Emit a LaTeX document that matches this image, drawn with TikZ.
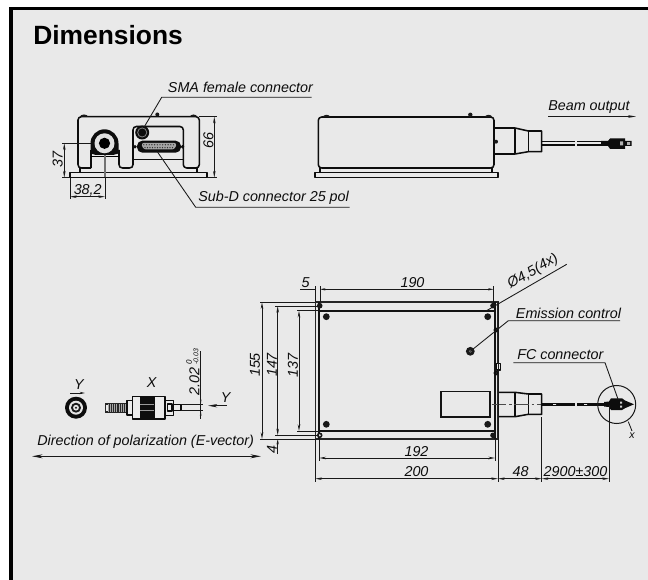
\documentclass[tikz,border=0pt]{standalone}
\usepackage{fontspec}
\setmainfont{Liberation Sans}
\usetikzlibrary{arrows.meta,calc}
\tikzset{
  x=0.75pt,y=-0.75pt,
  outl/.style={line width=1.15pt,black!95,line join=round},
  thin line/.style={line width=0.65pt,black!90},
  dimline/.style={line width=0.65pt,black!90,{Stealth[length=5pt,width=1.9pt]}-{Stealth[length=5pt,width=1.9pt]}},
  lab/.style={font=\fontsize{10.75}{12}\selectfont\itshape,inner sep=0pt,text=black!95},
  hole/.style={fill=black!90,draw=none},
}
\begin{document}
\begin{tikzpicture}
\useasboundingbox (0,0) rectangle (648,580);
\fill[white] (0,0) rectangle (648,580);
\fill[black!8.5] (11,8) rectangle (648,580);
\draw[line width=2.9pt,black] (10.7,580) -- (10.7,8.5) -- (648,8.5);
\node[anchor=west,inner sep=0pt,font=\fontsize{19.8}{22}\selectfont\bfseries] (title) at (33,35) {Dimensions};

% ---------- front view ----------
\draw[outl,rounded corners=2.5pt] (91,168) -- (78,168) -- (78,116.7) -- (199.3,116.7) -- (199.3,168) -- (183.3,168) -- (183.3,126.5) -- (133,126.5) -- (133,168) -- (119,168) -- (119,150);
\draw[outl] (91,168) -- (91,150);
\draw[outl] (133,159.3) -- (183.3,159.3);
\draw[line width=1.4pt] (91,156.5) -- (119,156.5);
\fill[black!90] (80,116.7) arc[start angle=180,end angle=360,x radius=4,y radius=2.2] -- cycle;
\fill[black!90] (190,116.7) arc[start angle=180,end angle=360,x radius=3.5,y radius=2.2] -- cycle;
\fill[black!90] (157.3,114.5) circle[radius=2];
\draw[outl] (80,168) -- (80,172.5) (197,168) -- (197,172.5);
\draw[outl] (70,172.5) rectangle (207,177.7);
\fill[black!95] (90.5,153.5) -- (90.5,143.3) arc[start angle=180,end angle=360,radius=14] -- (118.5,153.5) -- (113,155) -- (96,155) -- cycle;
\fill[black!12] (104.5,143.3) circle[radius=10];
\fill[black] (104.5,143.3) circle[radius=5.6];
\fill[black!95] (142.2,132.5) circle[radius=7];
\fill[black!50] (142.2,132.5) circle[radius=5];
\fill[black!95] (142.2,132.5) circle[radius=4];
\fill[black!95] (135,146.7) circle[radius=1.9] (182.5,146.7) circle[radius=1.9];
\fill[black!95,rounded corners=4pt] (137,140.7) rectangle (181,152.7);
\fill[black!35,rounded corners=2pt] (141,143) -- (177,143) -- (174.5,149.5) -- (143.5,149.5) -- cycle;
\foreach \i in {0,...,11} {\fill[black!80] ({143.8+\i*2.7},144.8) circle[radius=0.7] ({145+\i*2.5},147.6) circle[radius=0.7];}
% front dimensions
\draw[thin line] (199.3,116.7) -- (217,116.7) (207,177.6) -- (217,177.6);
\draw[dimline] (214.3,116.7) -- (214.3,177.6);
\node[lab,rotate=90] (d66) at (208.5,141) {66};
\draw[thin line] (62,143.3) -- (91,143.3) (62,177.6) -- (70,177.6);
\draw[dimline] (64.3,143.3) -- (64.3,177.6);
\node[lab,rotate=90] (d37) at (57.7,159.3) {37};
\draw[thin line] (70,177.6) -- (70,199);
\draw[line width=0.8pt,black!55] (105,155) -- (105,177);
\draw[thin line] (105,177) -- (105,199);
\draw[dimline] (70,196.7) -- (105,196.7);
\node[lab] (d382) at (87.7,190) {38,2};
% labels
\coordinate (smaend) at (144,127.3);
\coordinate (smabend) at (161.7,97.3);
\coordinate (smaline) at (311.7,97.3);
\node[lab,anchor=west] (sma) at (167.7,87) {SMA female connector};
\draw[thin line] (smaline) -- (smabend) -- (smaend);
\coordinate (subend) at (157.3,151.7);
\coordinate (subbend) at (195.7,207.3);
\coordinate (subline) at (349.5,207.3);
\node[lab,anchor=west] (sub) at (198,198) {Sub-D connector 25 pol};
\draw[thin line] (subline) -- (subbend) -- (subend);

% ---------- side view ----------
\draw[outl,rounded corners=2.5pt] (318.3,168) -- (318.3,117) -- (494,117) -- (494,168) -- cycle;
\fill[black!90] (323,117) arc[start angle=180,end angle=360,x radius=3.5,y radius=2.2] -- cycle;
\fill[black!90] (485,117) arc[start angle=180,end angle=360,x radius=3.5,y radius=2.2] -- cycle;
\fill[black!90] (470.3,114.8) circle[radius=2.2];
\fill[black!90] (496,141.7) circle[radius=2];
\draw[outl] (320,168) -- (320,172.7) (492,168) -- (492,172.7);
\draw[outl] (315,172.7) rectangle (498,177.7);
\draw[outl] (494,128) -- (515,128) -- (528.3,131) -- (541.7,131) -- (541.7,151.7) -- (528.3,151.7) -- (515,154) -- (494,154);
\draw[outl] (515,128) -- (515,154) (528.3,131) -- (528.3,151.7);
\draw[outl] (541.7,141.6) -- (575,141.6) (541.7,145) -- (575,145) (577,141.6) -- (602,141.6) (577,145) -- (602,145);
\fill[black!95] (601,141) -- (608,141) -- (610,138.5) -- (625,138.5) -- (625,141) -- (631.5,141) -- (631.5,146) -- (625,146) -- (625,148.8) -- (610,148.8) -- (608,146) -- (601,146) -- cycle;
\fill[black!30] (620,141.5) rectangle (623,145.5) (627,142.2) rectangle (630,144.8);
\coordinate (beamA) at (548,116.5);
\coordinate (beamB) at (636,116.5);
\draw[thin line,-{Stealth[length=6pt,width=2pt]}] (beamA) -- (beamB);
\node[lab,anchor=west] (beam) at (548,107) {Beam output};

% ---------- polarization detail ----------
\fill[black!95] (76,407.7) circle[radius=11];
\fill[black!10] (76,407.7) circle[radius=7];
\fill[black!90] (76,407.7) circle[radius=5];
\fill[black!10] (76,407.7) circle[radius=2.9];
\fill[black!90] (76,407.7) circle[radius=1.2];
\node[lab] (yt) at (79,384.5) {Y};
\draw[thin line,-{Stealth[length=4pt,width=1.7pt]}] (70,393) -- (85,393);
\node[lab] (xt) at (151.7,383) {X};
\fill[black!85] (105,403) rectangle (127,412.7);
\foreach \i in {0,...,8} {\draw[black!35,line width=0.6pt] ({108+\i*2.2},404) -- ({108+\i*2.2},411.7);}
\fill[black!8] (106.3,404.5) rectangle (107.7,411);
\draw[outl,fill=black!8] (127,400.3) rectangle (132.7,415);
\draw[outl,fill=black!8] (132.7,396.5) rectangle (165,419);
\fill[black!95] (139.8,396.5) rectangle (154.5,419);
\draw[black!40,line width=0.5pt] (140,404.3) -- (154,404.3) (140,410.7) -- (154,410.7);
\draw[outl,fill=black!8] (165,400.5) rectangle (173.3,415.5);
\draw[outl,fill=black!8] (167.5,404) rectangle (172,411);
\draw[outl] (173.3,404.3) rectangle (181,410.7);
\draw[thin line] (181,404.3) -- (203,404.3) (181,410.7) -- (203,410.7);
\draw[thin line] (200.7,351) -- (200.7,419);
\fill[black!85] (200.7,404.3) -- (199.9,399.5) -- (201.5,399.5) -- cycle (200.7,410.7) -- (199.9,415.5) -- (201.5,415.5) -- cycle;
\node[lab,rotate=90] (d202) at (194.5,381.5) {2.02};
\node[lab,rotate=90,font=\fontsize{6}{7}\selectfont\itshape] (d0) at (189,362) {0};
\node[lab,rotate=90,font=\fontsize{5.2}{6}\selectfont\itshape] (d003) at (196,357) {-0.03};
\coordinate (yarrA) at (226.7,405.7);
\coordinate (yarrB) at (208,405.7);
\draw[thin line,-{Stealth[length=7pt,width=2.5pt]}] (yarrA) -- (yarrB);
\node[lab] (yt2) at (225.7,397.5) {Y};
\node[lab,anchor=west] (dirt) at (37,442) {Direction of polarization (E-vector)};
\coordinate (dirA) at (32,456.3);
\coordinate (dirB) at (261,456.3);
\draw[thin line,{Stealth[length=8pt,width=3pt]}-{Stealth[length=8pt,width=3pt]}] (dirA) -- (dirB);

% ---------- top view ----------
\draw[line width=1.2pt,black!85] (315.3,302.3) rectangle (498,439);
\draw[line width=1.3pt,black!92] (319.3,310.7) -- (494.7,310.7) (319.3,431) -- (494.7,431);
\draw[line width=1.5pt,black!92] (319.3,302.3) -- (319.3,439) (494.7,302.3) -- (494.7,439);
\foreach \p in {(319.7,305.7),(493,305.7),(493,435.3)} {\fill[black!90] \p circle[radius=2.8];}
\fill[black!90] (319.7,435.3) circle[radius=2.8];
\fill[black!10] (319.7,435.3) circle[radius=1.1];
\foreach \p in {(326.3,316.7),(487.7,316.7),(326.3,424.3),(487.7,424.3)} {\fill[black!90] \p circle[radius=3.4];}
\fill[black!90] (470.3,351.3) circle[radius=4.4];
\fill[black!55] (470.3,351.3) circle[radius=1.5];
\draw[outl] (496,330) circle[radius=1.8] (496,373) circle[radius=1.8];
\draw[outl,fill=black!8] (496.5,363.5) rectangle (500.5,370);
\draw[line width=1.2pt,black!92] (441,391.3) rectangle (489.7,417);
\draw[outl] (498,392.3) -- (515,392.3) -- (528.3,394) -- (541.7,394) -- (541.7,414.3) -- (528.3,414.3) -- (515,416.7) -- (498,416.7);
\draw[outl] (515,392.3) -- (515,416.7) (528.3,394) -- (528.3,414.3);
\draw[line width=0.4pt,black!70,dash pattern=on 11pt off 2pt on 2pt off 2pt] (491.7,404.3) -- (541,404.3);
\fill[black!95] (541.7,402.6) rectangle (575,406);
\fill[black!95] (577,402.6) rectangle (606,406);
\fill[black!8] (584,404) rectangle (587,404.8) (553,404) rectangle (556,404.8);
\fill[black!95] (604,402) -- (609,401.5) -- (611,398.3) -- (622,398.3) -- (625,400.5) -- (634,404.3) -- (625,408.2) -- (622,410) -- (611,410) -- (609,407) -- (604,406.5) -- cycle;
\fill[black!20] (620,401.5) rectangle (622,403.5) (620,405.5) rectangle (622,407.5);
\draw[line width=0.75pt,black!90] (616.7,404.5) circle[radius=19];
\draw[thin line] (628.3,421.7) -- (632,431);
\node[lab,font=\fontsize{8}{9}\selectfont\itshape] (xlab) at (632,436) {x};
% top dimensions
\draw[thin line] (315.3,302.3) -- (315.3,286) (320,302.3) -- (320,286) (493.5,303) -- (493.5,286);
\coordinate (fiveA) at (300,289.3);
\draw[thin line] (fiveA) -- (315.3,289.3);
\draw[dimline,{Stealth[length=4pt,width=1.7pt]}-{Stealth[length=4pt,width=1.7pt]}] (320,289.3) -- (493.5,289.3);
\node[lab] (d5) at (305.5,283) {5};
\node[lab] (d190) at (412.5,283) {190};
\draw[thin line] (319.3,439) -- (319.3,461) (495,439) -- (495,461);
\draw[dimline] (319.3,458) -- (495,458);
\node[lab] (d192) at (416.5,451.5) {192};
\draw[thin line] (315.3,439) -- (315.3,482) (498,302.3) -- (498,482);
\draw[dimline] (315.3,478.7) -- (498,478.7);
\node[lab] (d200) at (416.5,472) {200};
\draw[thin line] (541.7,417) -- (541.7,482) (609,405) -- (609,482);
\draw[dimline] (498,478.7) -- (541.7,478.7);
\draw[dimline] (541.7,478.7) -- (609,478.7);
\node[lab] (d48) at (520.5,472) {48};
\node[lab] (d2900) at (575.5,471.5) {2900±300};
\draw[thin line] (260,302.3) -- (315.3,302.3) (260,439) -- (315.3,439);
\draw[dimline] (262,302.3) -- (262,439);
\node[lab,rotate=90] (d155) at (255,365) {155};
\draw[thin line] (275,306) -- (319,306) (275,435.3) -- (319,435.3);
\draw[dimline] (277.7,306) -- (277.7,435.3);
\node[lab,rotate=90] (d147) at (272,365) {147};
\draw[thin line] (297,310.7) -- (319,310.7) (297,431) -- (319,431);
\draw[dimline] (299,310.7) -- (299,431);
\node[lab,rotate=90] (d137) at (293,365.5) {137};
\draw[thin line,-{Stealth[length=4pt,width=1.7pt]}] (277.7,454) -- (277.7,439);
\node[lab,rotate=90] (d4) at (272,449.5) {4};
% leaders
\coordinate (diaA) at (486,311);
\coordinate (diaB) at (566.7,264.3);
\draw[thin line] (diaA) -- (diaB);
\node[lab,rotate=30] (dia) at (533,271.5) {Ø4,5(4x)};
\coordinate (emA) at (470.3,351.3);
\coordinate (emB) at (508.3,320.7);
\coordinate (emC) at (620,320.7);
\draw[thin line] (emA) -- (emB) -- (emC);
\node[lab,anchor=west] (em) at (515.7,313) {Emission control};
\coordinate (fcA) at (618.3,400);
\coordinate (fcB) at (605,362.7);
\coordinate (fcC) at (513.3,362.7);
\draw[thin line] (fcA) -- (fcB) -- (fcC);
\node[lab,anchor=west] (fc) at (517,355) {FC connector};
\end{tikzpicture}
\end{document}
